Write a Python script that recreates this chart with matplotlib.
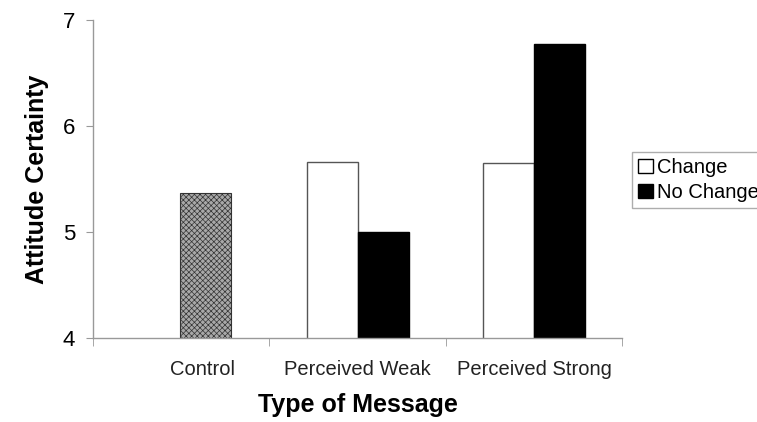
import numpy as np
import matplotlib
matplotlib.use('Agg')
import matplotlib.pyplot as plt
from matplotlib.patches import Patch

plt.rcParams['font.family'] = ['Liberation Sans', 'DejaVu Sans']
plt.rcParams['hatch.linewidth'] = 0.5
plt.rcParams['hatch.color'] = '#4a4a4a'

# data
categories = ['Control', 'Perceived Weak', 'Perceived Strong']
control = [5.37]
change = [5.66, 5.65]
no_change = [5.0, 6.77]

fig = plt.figure(figsize=(7.57, 4.22), dpi=100)
ax = fig.add_axes([0.123, 0.199, 0.699, 0.754])

w = 0.29
x = np.arange(len(categories))

# control bar sits a little right of its category centre
ax.bar(x[0] + 0.135, control, w, facecolor='#a8a8a8',
       edgecolor='#333333', linewidth=0.8, hatch='xxxxxx')
ax.bar(x[1:] - w / 2, change, w, facecolor='white', edgecolor='#555555',
       linewidth=1.0)
ax.bar(x[1:] + w / 2, no_change, w, facecolor='black', edgecolor='black',
       linewidth=1.0)

ax.set_ylim(4, 7)
ax.set_xlim(-0.5, 2.5)
ax.set_yticks([4, 5, 6, 7])
# labels are centred under the bars, not the category slots
ax.set_xticks([0.12, 1, 2])
ax.set_xticklabels(categories, fontsize=14.5, color='#222222')
ax.set_xticks([-0.5, 0.5, 1.5, 2.5], minor=True)
ax.tick_params(axis='x', which='major', length=0, pad=16)
ax.tick_params(axis='x', which='minor', length=6, color='#999999', direction='out')
ax.tick_params(axis='y', labelsize=16, length=5, color='#999999', pad=8)

for s in ['top', 'right']:
    ax.spines[s].set_visible(False)
for s in ['left', 'bottom']:
    ax.spines[s].set_color('#999999')
    ax.spines[s].set_linewidth(1.0)

ax.set_xlabel('Type of Message', fontsize=18, fontweight='bold', labelpad=10)
ax.set_ylabel('Attitude Certainty', fontsize=18, fontweight='bold', labelpad=10)

handles = [Patch(facecolor='white', edgecolor='black', label='Change'),
           Patch(facecolor='black', edgecolor='black', label='No Change')]
leg = fig.legend(handles=handles, loc='upper left', bbox_to_anchor=(0.835, 0.64),
                 fontsize=14.5, frameon=True, fancybox=False, handlelength=0.75,
                 handleheight=0.75, handletextpad=0.2, labelspacing=0.3,
                 borderpad=0.3, borderaxespad=0)
leg.get_frame().set_edgecolor('#999999')
leg.get_frame().set_linewidth(1.0)

fig.savefig('out.png', dpi=100, facecolor='white')
